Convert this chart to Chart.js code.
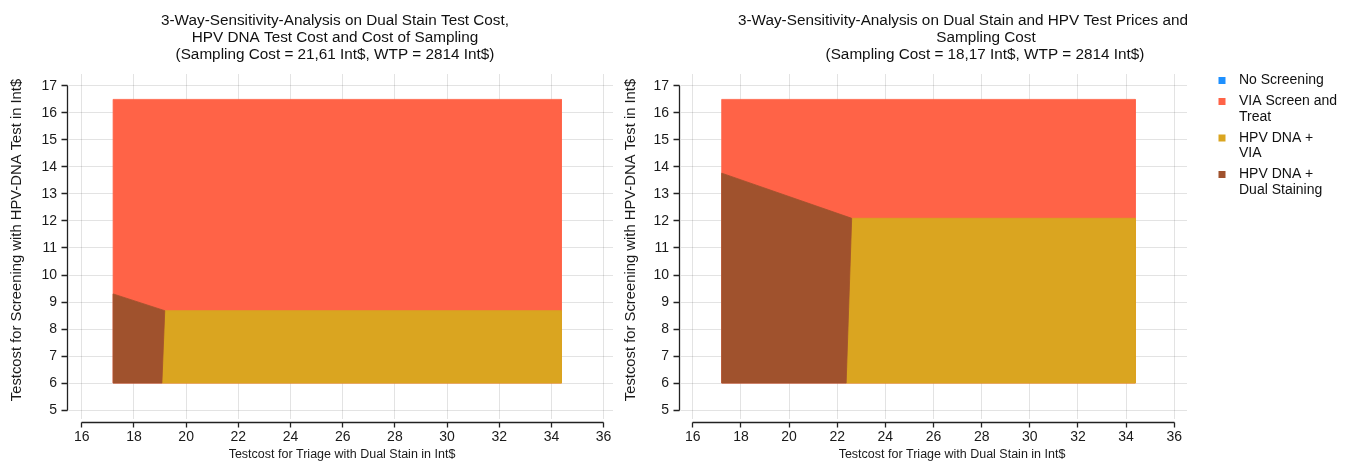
<!DOCTYPE html>
<html>
<head>
<meta charset="utf-8">
<script src="https://cdn.jsdelivr.net/npm/chart.js@4.4.1/dist/chart.umd.min.js"></script>
<style>
  html, body { margin: 0; padding: 0; background: #fff; }
  #wrap { position: relative; width: 1352px; height: 468px; overflow: hidden; }
  canvas { position: absolute; top: 0; }
  #leftChart { left: 0; }
  #rightChart { left: 610px; }
</style>
</head>
<body>
<div id="wrap">
  <canvas id="leftChart" width="640" height="468"></canvas>
  <canvas id="rightChart" width="742" height="468"></canvas>
</div>
<script>
const strategies = ['No Screening', 'VIA Screen and Treat', 'HPV DNA + VIA', 'HPV DNA + Dual Staining'];
const legendLines = [['No Screening'], ['VIA Screen and', 'Treat'], ['HPV DNA +', 'VIA'], ['HPV DNA +', 'Dual Staining']];
const strategyColors = ['#1E90FF', '#FF6347', '#DAA520', '#A0522D'];

const xTicks = [16, 18, 20, 22, 24, 26, 28, 30, 32, 34, 36];
const yTicks = [5, 6, 7, 8, 9, 10, 11, 12, 13, 14, 15, 16, 17];

// corners of each optimal-strategy region: [dual stain cost, hpv test cost]
const leftNoScreening = [];
const leftVia = [[17.2, 6], [17.2, 16.5], [34.38, 16.5], [34.38, 6]];
const leftHpvVia = [[19.07, 6], [19.18, 8.68], [34.38, 8.68], [34.38, 6]];
const leftHpvDual = [[17.2, 6], [17.2, 9.3], [19.18, 8.68], [19.07, 6]];

const rightNoScreening = [];
const rightVia = [[17.2, 6], [17.2, 16.5], [34.38, 16.5], [34.38, 6]];
const rightHpvVia = [[22.37, 6], [22.6, 12.1], [34.38, 12.1], [34.38, 6]];
const rightHpvDual = [[17.2, 6], [17.2, 13.77], [22.6, 12.1], [22.37, 6]];

const leftTitle = ['3-Way-Sensitivity-Analysis on Dual Stain Test Cost,', 'HPV DNA Test Cost and Cost of Sampling', '(Sampling Cost = 21,61 Int$, WTP = 2814 Int$)'];
const rightTitle = ['3-Way-Sensitivity-Analysis on Dual Stain and HPV Test Prices and', 'Sampling Cost', '(Sampling Cost = 18,17 Int$, WTP = 2814 Int$)'];
const xTitle = 'Testcost for Triage with Dual Stain in Int$';
const yTitle = 'Testcost for Screening with HPV-DNA Test in Int$';

const FONT = '"Liberation Sans", Arial, Helvetica, sans-serif';

function makeDatasets(regions) {
    return regions.map((pts, i) => ({
        label: strategies[i],
        data: pts.concat(pts.length ? [pts[0]] : []).map(p => ({x: p[0], y: p[1]})),
        showLine: true,
        fill: 'shape',
        backgroundColor: strategyColors[i],
        borderColor: strategyColors[i],
        borderWidth: 0.8,
        pointRadius: 0,
        pointHoverRadius: 0,
        order: regions.length - i
    }));
}

// axis lines sit a little off the plot area, only over the tick range
const axisLines = {
    id: 'axisLines',
    afterDraw(chart, args, opts) {
        const {ctx, chartArea} = chart;
        const x = chart.scales.x, y = chart.scales.y;
        const al = (p) => Math.round(p - 0.5) + 0.5;
        ctx.save();
        ctx.strokeStyle = '#222';
        ctx.lineWidth = 1.3;
        ctx.beginPath();
        const yLine = chartArea.bottom + 3.5;
        ctx.moveTo(al(x.getPixelForValue(xTicks[0])), yLine);
        ctx.lineTo(al(x.getPixelForValue(xTicks[xTicks.length - 1])), yLine);
        xTicks.forEach(v => {
            const px = al(x.getPixelForValue(v));
            ctx.moveTo(px, yLine);
            ctx.lineTo(px, yLine + 5);
        });
        const xLine = chartArea.left - 1.5;
        ctx.moveTo(xLine, al(y.getPixelForValue(yTicks[0])));
        ctx.lineTo(xLine, al(y.getPixelForValue(yTicks[yTicks.length - 1])));
        yTicks.forEach(v => {
            const py = al(y.getPixelForValue(v));
            ctx.moveTo(xLine, py);
            ctx.lineTo(xLine - 6, py);
        });
        ctx.stroke();

        // axis titles
        ctx.fillStyle = '#1a1a1a';
        ctx.textAlign = 'center';
        ctx.textBaseline = 'middle';
        ctx.font = '12.5px ' + FONT;
        ctx.fillText(xTitle, opts.xTitleCenter, opts.xTitleY);
        ctx.translate(opts.yTitleX, opts.yTitleCenter);
        ctx.rotate(-Math.PI / 2);
        ctx.font = '14.8px ' + FONT;
        ctx.fillText(yTitle, 0, 0);
        ctx.restore();
    }
};

const panelTitle = {
    id: 'panelTitle',
    afterDraw(chart, args, opts) {
        const ctx = chart.ctx;
        ctx.save();
        ctx.font = '15.3px ' + FONT;
        ctx.fillStyle = '#111';
        ctx.textAlign = 'center';
        ctx.textBaseline = 'alphabetic';
        opts.lines.forEach((line, i) => {
            ctx.fillText(line, opts.centers[i], opts.top + i * opts.lineHeight);
        });
        ctx.restore();
    }
};

const sideLegend = {
    id: 'sideLegend',
    afterDraw(chart, args, opts) {
        if (!opts.show) return;
        const ctx = chart.ctx;
        ctx.save();
        ctx.font = '14px ' + FONT;
        ctx.textBaseline = 'middle';
        ctx.textAlign = 'left';
        let yPos = opts.top;
        legendLines.forEach((lines, i) => {
            ctx.fillStyle = strategyColors[i];
            ctx.fillRect(opts.boxX - 3.5, yPos - 3.5, 7, 7);
            ctx.fillStyle = '#111';
            lines.forEach((t, j) => ctx.fillText(t, opts.textX, yPos + j * opts.lineHeight));
            yPos += lines.length * opts.lineHeight + opts.gap;
        });
        ctx.restore();
    }
};

function makeConfig(regions, cfg) {
    return {
        type: 'scatter',
        data: {datasets: makeDatasets(regions)},
        options: {
            responsive: false,
            animation: false,
            events: [],
            layout: {padding: {top: 74, right: cfg.padRight, bottom: 0, left: 0}},
            plugins: {
                legend: {display: false},
                tooltip: {enabled: false},
                panelTitle: {lines: cfg.title, centers: cfg.titleCenters, top: 24.5, lineHeight: 17.3},
                axisLines: {xTitleCenter: cfg.xTitleCenter, xTitleY: 455, yTitleX: cfg.yTitleX, yTitleCenter: 240},
                sideLegend: cfg.legend
            },
            scales: {
                x: {
                    type: 'linear',
                    min: cfg.xMin,
                    max: cfg.xMax,
                    z: 1,
                    afterBuildTicks: (scale) => { scale.ticks = xTicks.map(v => ({value: v})); },
                    afterFit: (scale) => { scale.height = 49; },
                    grid: {color: 'rgba(0,0,0,0.11)', lineWidth: 1, drawTicks: false},
                    border: {display: false},
                    ticks: {padding: 10, color: '#1a1a1a', font: {size: 14, family: FONT}, maxRotation: 0},
                    title: {display: false}
                },
                y: {
                    type: 'linear',
                    min: 4.67,
                    max: 17.44,
                    z: 1,
                    afterBuildTicks: (scale) => { scale.ticks = yTicks.map(v => ({value: v})); },
                    afterFit: (scale) => { scale.width = cfg.yWidth; },
                    grid: {color: 'rgba(0,0,0,0.11)', lineWidth: 1, drawTicks: false},
                    border: {display: false},
                    ticks: {padding: 12, color: '#1a1a1a', font: {size: 14, family: FONT}},
                    title: {display: false}
                }
            }
        },
        plugins: [axisLines, panelTitle, sideLegend]
    };
}

document.addEventListener('DOMContentLoaded', () => {
    const leftCtx = document.getElementById('leftChart').getContext('2d');
    new Chart(leftCtx, makeConfig([leftNoScreening, leftVia, leftHpvVia, leftHpvDual], {
        padRight: 27, yWidth: 69,
        xMin: 15.51, xMax: 36.36,
        title: leftTitle, titleCenters: [335, 335, 335],
        xTitleCenter: 342, yTitleX: 17,
        legend: {show: false}
    }));

    const rightCtx = document.getElementById('rightChart').getContext('2d');
    new Chart(rightCtx, makeConfig([rightNoScreening, rightVia, rightHpvVia, rightHpvDual], {
        padRight: 165, yWidth: 71,
        xMin: 15.51, xMax: 36.53,
        title: rightTitle, titleCenters: [353, 376, 375],
        xTitleCenter: 342, yTitleX: 21,
        legend: {show: true, top: 80.5, boxX: 612, textX: 629, lineHeight: 15.5, gap: 5.5}
    }));
});
</script>
</body>
</html>
